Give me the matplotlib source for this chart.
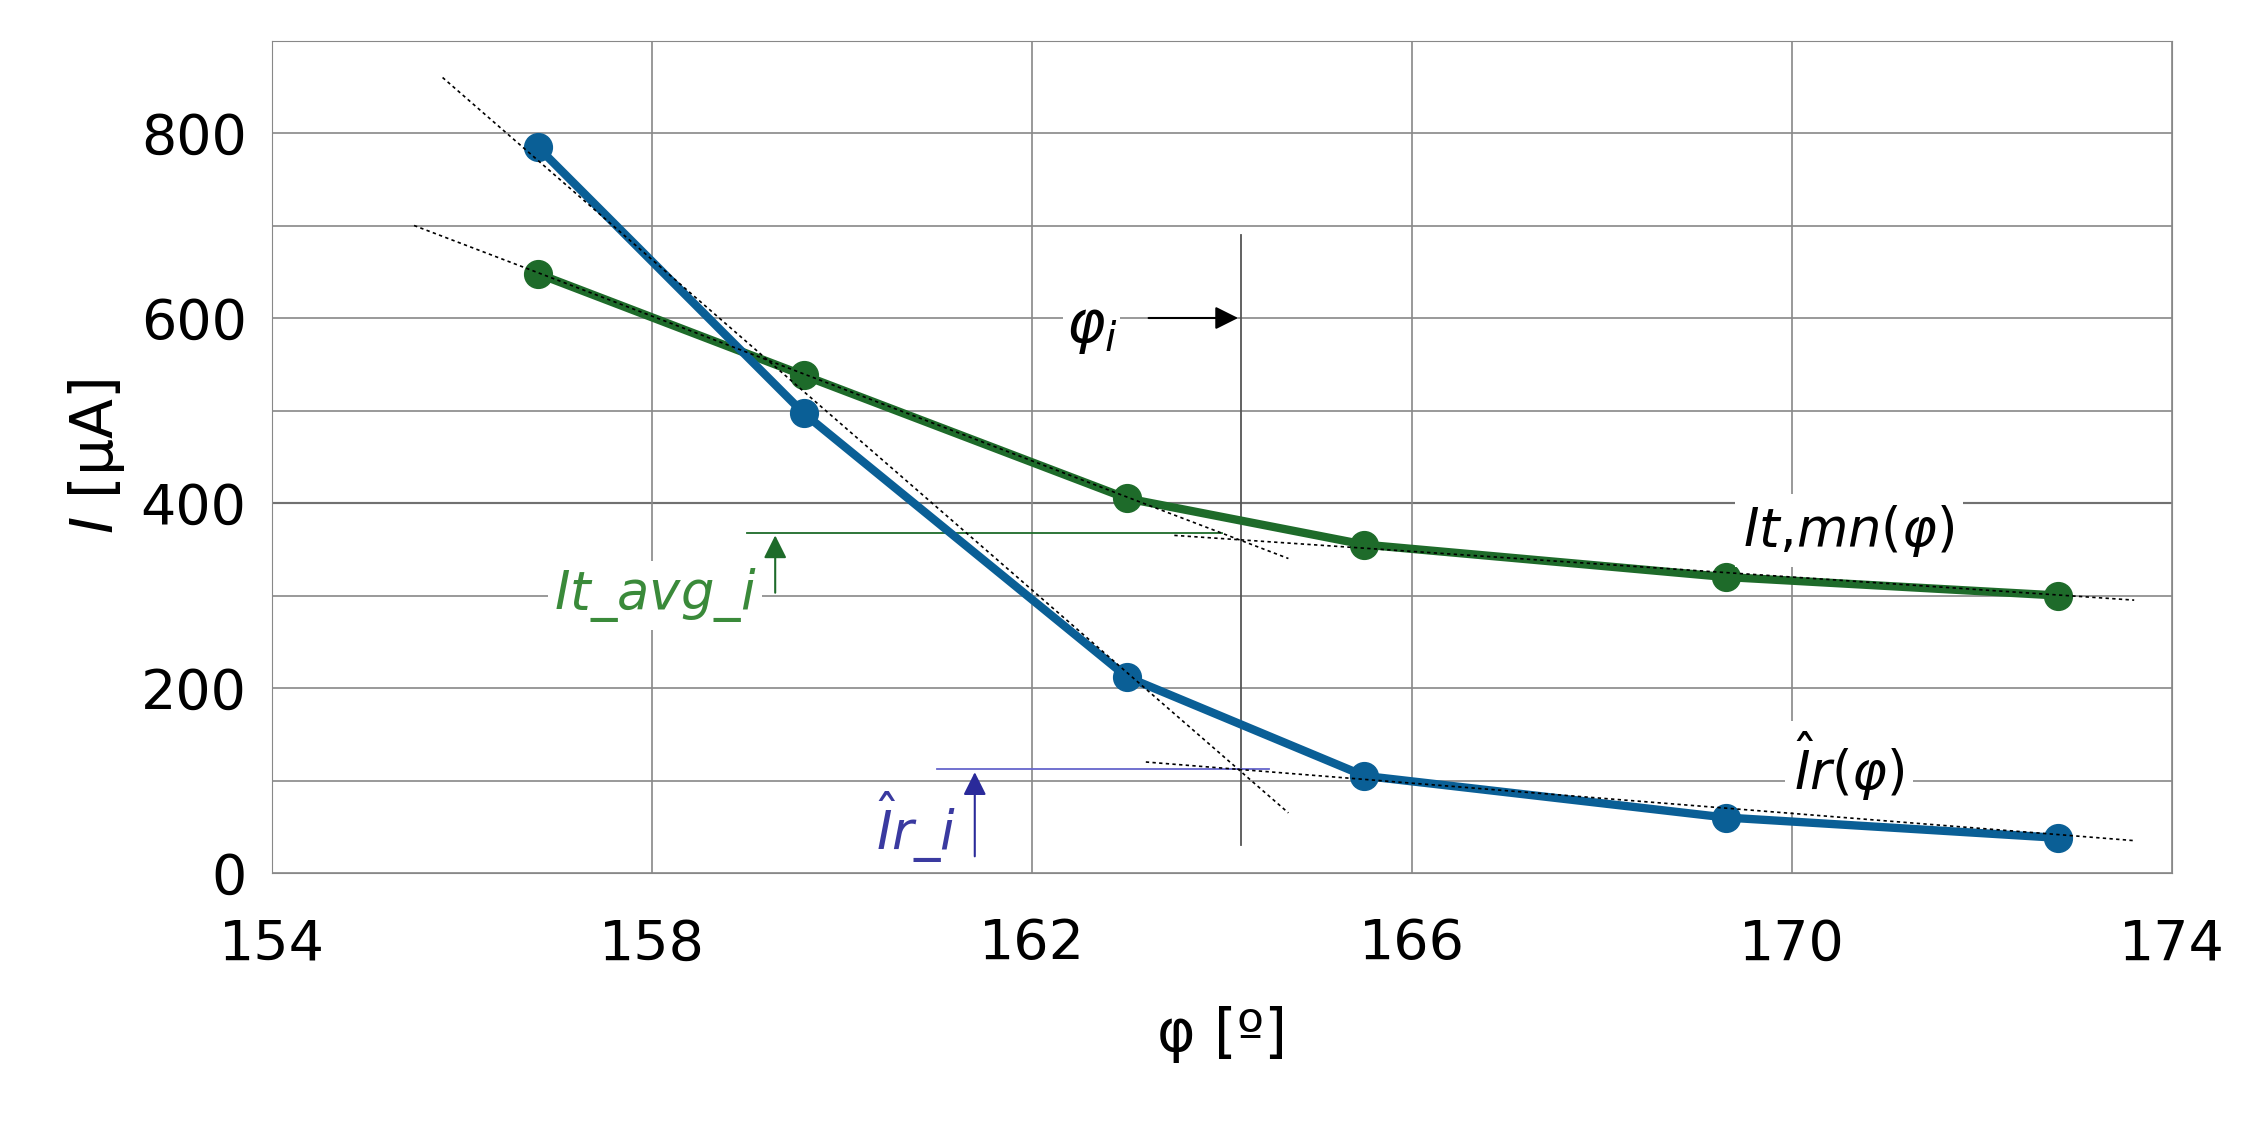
import matplotlib.pyplot as plt

phi = [156.8, 159.6, 163.0, 165.5, 169.3, 172.8]
i_r = [785, 497, 212, 105, 60, 38]
i_t = [648, 538, 405, 355, 320, 300]

# dashed tangent lines (endpoints)
tan_r1_x, tan_r1_y = [155.8, 164.7], [860, 65]
tan_r2_x, tan_r2_y = [163.2, 173.6], [120, 35]
tan_t1_x, tan_t1_y = [155.5, 164.7], [700, 340]
tan_t2_x, tan_t2_y = [163.5, 173.6], [365, 295]

phi_i = 164.2
it_avg = 368
ir_hat = 112

blue = "#0a5f96"
green = "#1e6b2a"

fig = plt.figure(figsize=(22.44, 11.25), dpi=100)
ax = fig.add_axes([0.121, 0.224, 0.847, 0.74])
ax.set_xlim(154, 174)
ax.set_ylim(0, 900)
ax.set_xticks([154, 158, 162, 166, 170, 174])
ax.set_yticks([0, 200, 400, 600, 800])
ax.set_yticks(range(0, 900, 100), minor=True)
ax.tick_params(which="both", length=0, labelsize=40)
ax.tick_params(axis="x", pad=32)
ax.tick_params(axis="y", pad=18)
ax.grid(True, which="both", color="#888888", lw=1.2)
ax.axhline(400, color="black", lw=1.5, zorder=1)
for s in ax.spines.values():
    s.set_color("#888888")

for xs, ys in [(tan_r1_x, tan_r1_y), (tan_r2_x, tan_r2_y), (tan_t1_x, tan_t1_y), (tan_t2_x, tan_t2_y)]:
    ax.plot(xs, ys, ls=(0, (2, 2)), color="black", lw=1.2, zorder=4)

ax.plot(phi, i_t, color=green, lw=6, marker="o", ms=20, zorder=3)
ax.plot(phi, i_r, color=blue, lw=6, marker="o", ms=20, zorder=3)

ax.plot([phi_i, phi_i], [30, 690], color="#555555", lw=1.3, zorder=2)
ax.annotate("", xy=(phi_i, 600), xytext=(163.2, 600),
            arrowprops=dict(arrowstyle="-|>", color="black", lw=1.5, mutation_scale=35))
ax.text(162.9, 590, r"$\varphi_i$", fontsize=42, ha="right", va="center",
        bbox=dict(fc="white", ec="none", pad=2))

ax.plot([159.0, 164.0], [it_avg, it_avg], color=green, lw=1.3, zorder=2)
ax.annotate("", xy=(159.3, it_avg), xytext=(159.3, 300),
            arrowprops=dict(arrowstyle="-|>", color=green, lw=1.5, mutation_scale=35))
ax.text(159.1, 300, r"$It\_avg\_i$", fontsize=38, color="#3a8a3a", ha="right", va="center",
        bbox=dict(fc="white", ec="none", pad=4))

ax.plot([161.0, 164.5], [ir_hat, ir_hat], color="#6666cc", lw=1.3, zorder=2)
ax.annotate("", xy=(161.4, ir_hat), xytext=(161.4, 15),
            arrowprops=dict(arrowstyle="-|>", color="#2a2a9a", lw=1.5, mutation_scale=35))
ax.text(161.2, 50, r"$\hat{I}r\_i$", fontsize=38, color="#3a3aa0", ha="right", va="center",
        bbox=dict(fc="white", ec="none", pad=4))

ax.text(170.6, 370, r"$It{,}mn(\varphi)$", fontsize=38, ha="center", va="center",
        bbox=dict(fc="white", ec="none", pad=6))
ax.text(170.6, 115, r"$\hat{I}r(\varphi)$", fontsize=38, ha="center", va="center",
        bbox=dict(fc="white", ec="none", pad=6))

ax.set_xlabel(r"φ [º]", fontsize=42, labelpad=25)
ax.set_ylabel(r"$I$ [μA]", fontsize=42, labelpad=10)

fig.savefig("out.png", dpi=100)
